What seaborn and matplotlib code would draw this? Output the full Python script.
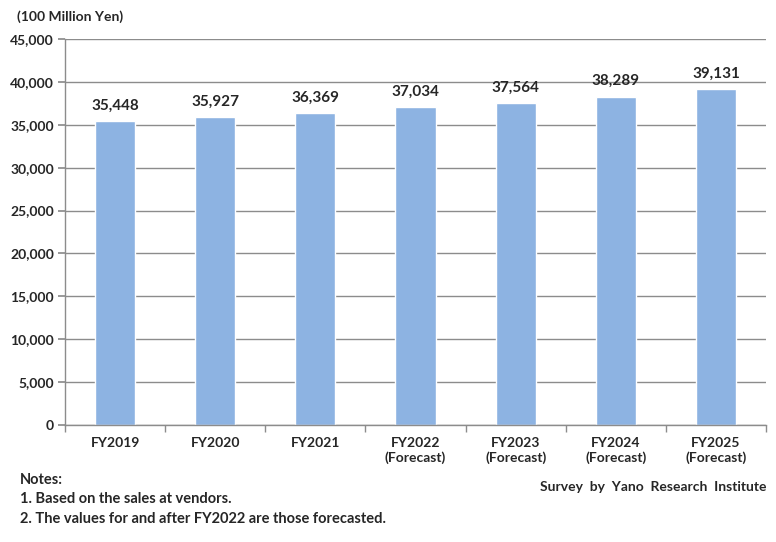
import pandas as pd
import seaborn as sns
from matplotlib import pyplot as plt
from matplotlib.ticker import FuncFormatter, FixedLocator

years = ['FY2019', 'FY2020', 'FY2021', 'FY2022\n(Forecast)', 'FY2023\n(Forecast)',
         'FY2024\n(Forecast)', 'FY2025\n(Forecast)']
market_size = [35448, 35927, 36369, 37034, 37564, 38289, 39131]

df = pd.DataFrame({'Year': years, 'Size': market_size})

sns.set_theme(style="white")
plt.rcParams['font.family'] = ['Lato', 'DejaVu Sans']
plt.rcParams['font.weight'] = 'bold'

fig = plt.figure(figsize=(7.76, 5.42), dpi=100)
ax = fig.add_axes([0.0838, 0.2159, 0.9033, 0.7122])

sns.barplot(data=df, x='Year', y='Size', color='#8DB3E2', width=0.4, saturation=1, ax=ax)

ax.set_ylim(0, 45000)
ax.set_xlim(-0.5, 6.5)
ax.set_yticks(range(0, 45001, 5000))
ax.yaxis.set_major_formatter(FuncFormatter(lambda v, p: f'{int(v):,}'))
ax.grid(axis='y', color='#8C8C8C', linewidth=1)
ax.set_axisbelow(True)
ax.set_xlabel('')
ax.set_ylabel('')

for s in ['top', 'right']:
    ax.spines[s].set_visible(False)
for s in ['left', 'bottom']:
    ax.spines[s].set_color('#8C8C8C')
    ax.spines[s].set_linewidth(1)

ax.tick_params(axis='y', length=5, color='#8C8C8C', labelsize=10, pad=3, left=True)
ax.tick_params(axis='x', which='major', length=0, labelsize=10, pad=9)
ax.xaxis.set_minor_locator(FixedLocator([i - 0.5 for i in range(8)]))
ax.tick_params(axis='x', which='minor', length=5, color='#8C8C8C', bottom=True)
for lab in ax.get_xticklabels() + ax.get_yticklabels():
    lab.set_fontweight('bold')

ax.bar_label(ax.containers[0], labels=[f'{v:,}' for v in market_size],
             padding=6, fontsize=11, fontweight='bold')

fig.text(17 / 776, 1 - 17 / 542, '(100 Million Yen)', fontsize=10, fontweight='bold', va='center')
fig.text(20 / 776, 1 - 480 / 542, 'Notes:', fontsize=10.5, fontweight='bold', va='center')
fig.text(20 / 776, 1 - 499 / 542, '1. Based on the sales at vendors.', fontsize=10.5, fontweight='bold', va='center')
fig.text(20 / 776, 1 - 519 / 542, '2. The values for and after FY2022 are those forecasted.',
         fontsize=10.5, fontweight='bold', va='center')
fig.text(766 / 776, 1 - 487 / 542, 'Survey  by  Yano  Research  Institute', fontsize=10,
         fontweight='bold', va='center', ha='right')

plt.savefig('out.png', dpi=100)
